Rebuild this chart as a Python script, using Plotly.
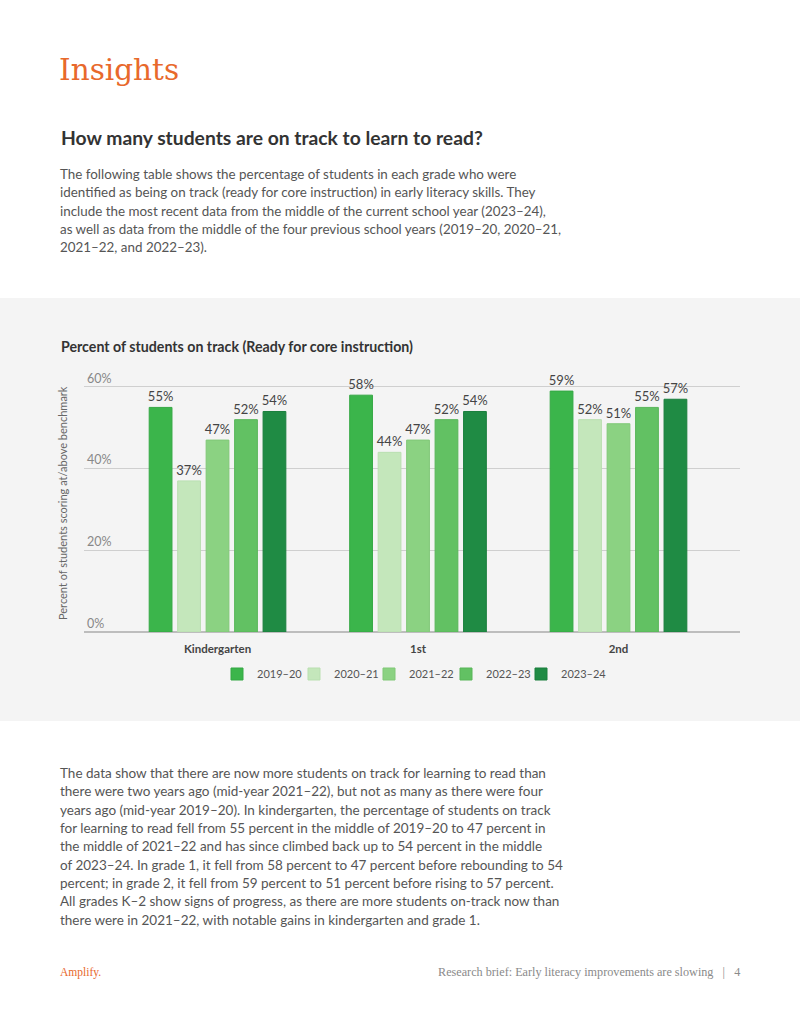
import plotly.graph_objects as go

grades = ["Kindergarten", "1st", "2nd"]
years = ["2019–20", "2020–21", "2021–22", "2022–23", "2023–24"]
values = {
    "2019–20": [55, 58, 59],
    "2020–21": [37, 44, 52],
    "2021–22": [47, 47, 51],
    "2022–23": [52, 52, 55],
    "2023–24": [54, 54, 57],
}
colors = ["#3bb54b", "#c4e7bb", "#8bd282", "#62c163", "#1f8b44"]
line_colors = ["#35a844", "#b9dfb0", "#80c877", "#58b659", "#1a7f3d"]
tick_vals = [0, 20, 40, 60]
tick_text = ["0%", "20%", "40%", "60%"]
legend_x_px = [236, 313, 388, 465, 540]

W, H = 800, 1035
def px(x):
    return x / W
def py(y):
    return 1 - y / H

body_font = "Lato"
fig = go.Figure()
legend_ids = ["legend"] + [f"legend{i}" for i in range(2, len(years) + 1)]
for i, yr in enumerate(years):
    fig.add_trace(go.Bar(
        name=yr, x=grades, y=values[yr], legend=legend_ids[i],
        marker=dict(color=colors[i], line=dict(color=line_colors[i], width=1)),
        text=[f"{v}%" for v in values[yr]], textposition="outside",
        textfont=dict(family=body_font, size=13, color="#444444"),
        constraintext="none", cliponaxis=False,
    ))

# pixel geometry
y0, y60 = 632, 387
ppp = (y0 - y60) / 60
ymax = 67
ytop = y0 - ymax * ppp

legends = {}
for i, lid in enumerate(legend_ids):
    legends[lid] = dict(orientation="h", x=px(legend_x_px[i] - 19), xanchor="left",
                        y=py(674), yanchor="middle",
                        font=dict(family=body_font, size=11, color="#555555"),
                        bgcolor="rgba(0,0,0,0)", itemclick=False)

fig.update_layout(
    width=W, height=H,
    margin=dict(l=0, r=0, t=0, b=0),
    paper_bgcolor="white", plot_bgcolor="rgba(0,0,0,0)",
    barmode="group", bargap=0.29, bargroupgap=0.2,
    showlegend=True,
    xaxis=dict(domain=[px(84), px(740)], range=[-0.666, 2.606], type="category",
               tickvals=grades, ticktext=[f"<b>{g}</b>" for g in grades],
               tickfont=dict(family=body_font, size=11.5, color="#444444"),
               ticklabelstandoff=8,
               showgrid=False, showline=False, ticks="", zeroline=False, fixedrange=True),
    yaxis=dict(domain=[py(y0), py(ytop)], range=[0, ymax],
               tickvals=tick_vals, ticktext=tick_text,
               ticklabelposition="inside top",
               tickfont=dict(family=body_font, size=12.5, color="#888888"),
               showgrid=True, gridcolor="#cfcfcf", gridwidth=1,
               zeroline=True, zerolinecolor="#bdbdbd", zerolinewidth=2,
               showline=False, ticks="", fixedrange=True),
    font=dict(family=body_font),
    **legends,
)

# gray band
fig.add_shape(type="rect", xref="paper", yref="paper", x0=0, x1=1, y0=py(721), y1=py(298),
              fillcolor="#f4f4f4", line=dict(width=0), layer="below")

ann = []
def text(x, y, s, size, color, family=body_font, xanchor="left", **kw):
    ann.append(dict(x=px(x), y=py(y), xref="paper", yref="paper", text=s, showarrow=False,
                    xanchor=xanchor, yanchor="middle", align=xanchor if xanchor != "center" else "center",
                    font=dict(family=family, size=size, color=color), **kw))

text(57, 70, "Insights", 29.5, "#e8692c", family="DejaVu Serif")
text(59, 138, "<b>How many students are on track to learn to read?</b>", 19.3, "#333333")

para1 = [
    "The following table shows the percentage of students in each grade who were",
    "identified as being on track (ready for core instruction) in early literacy skills. They",
    "include the most recent data from the middle of the current school year (2023–24),",
    "as well as data from the middle of the four previous school years (2019–20, 2020–21,",
    "2021–22, and 2022–23).",
]
for i, line in enumerate(para1):
    text(58, 174 + i * 18.3, line, 13.4, "#555555")

text(59, 346, "<b>Percent of students on track (Ready for core instruction)</b>", 14.2, "#333333")
text(62, 503, "Percent of students scoring at/above benchmark", 11, "#666666", xanchor="center",
     textangle=-90)

para2 = [
    "The data show that there are now more students on track for learning to read than",
    "there were two years ago (mid-year 2021–22), but not as many as there were four",
    "years ago (mid-year 2019–20). In kindergarten, the percentage of students on track",
    "for learning to read fell from 55 percent in the middle of 2019–20 to 47 percent in",
    "the middle of 2021–22 and has since climbed back up to 54 percent in the middle",
    "of 2023–24. In grade 1, it fell from 58 percent to 47 percent before rebounding to 54",
    "percent; in grade 2, it fell from 59 percent to 51 percent before rising to 57 percent.",
    "All grades K–2 show signs of progress, as there are more students on-track now than",
    "there were in 2021–22, with notable gains in kindergarten and grade 1.",
]
for i, line in enumerate(para2):
    text(58, 773 + i * 18.35, line, 13.5, "#555555")

text(58, 972, "Amplify.", 11.5, "#e8692c", family="Liberation Serif")
text(742, 972, "Research brief: Early literacy improvements are slowing   |   4", 12.2, "#8a8a8a",
     family="Liberation Serif", xanchor="right")

fig.update_layout(annotations=ann)
fig.write_html("out.html", config={"displayModeBar": False},
               post_script="document.body.style.margin='0';document.body.style.overflow='hidden';")
